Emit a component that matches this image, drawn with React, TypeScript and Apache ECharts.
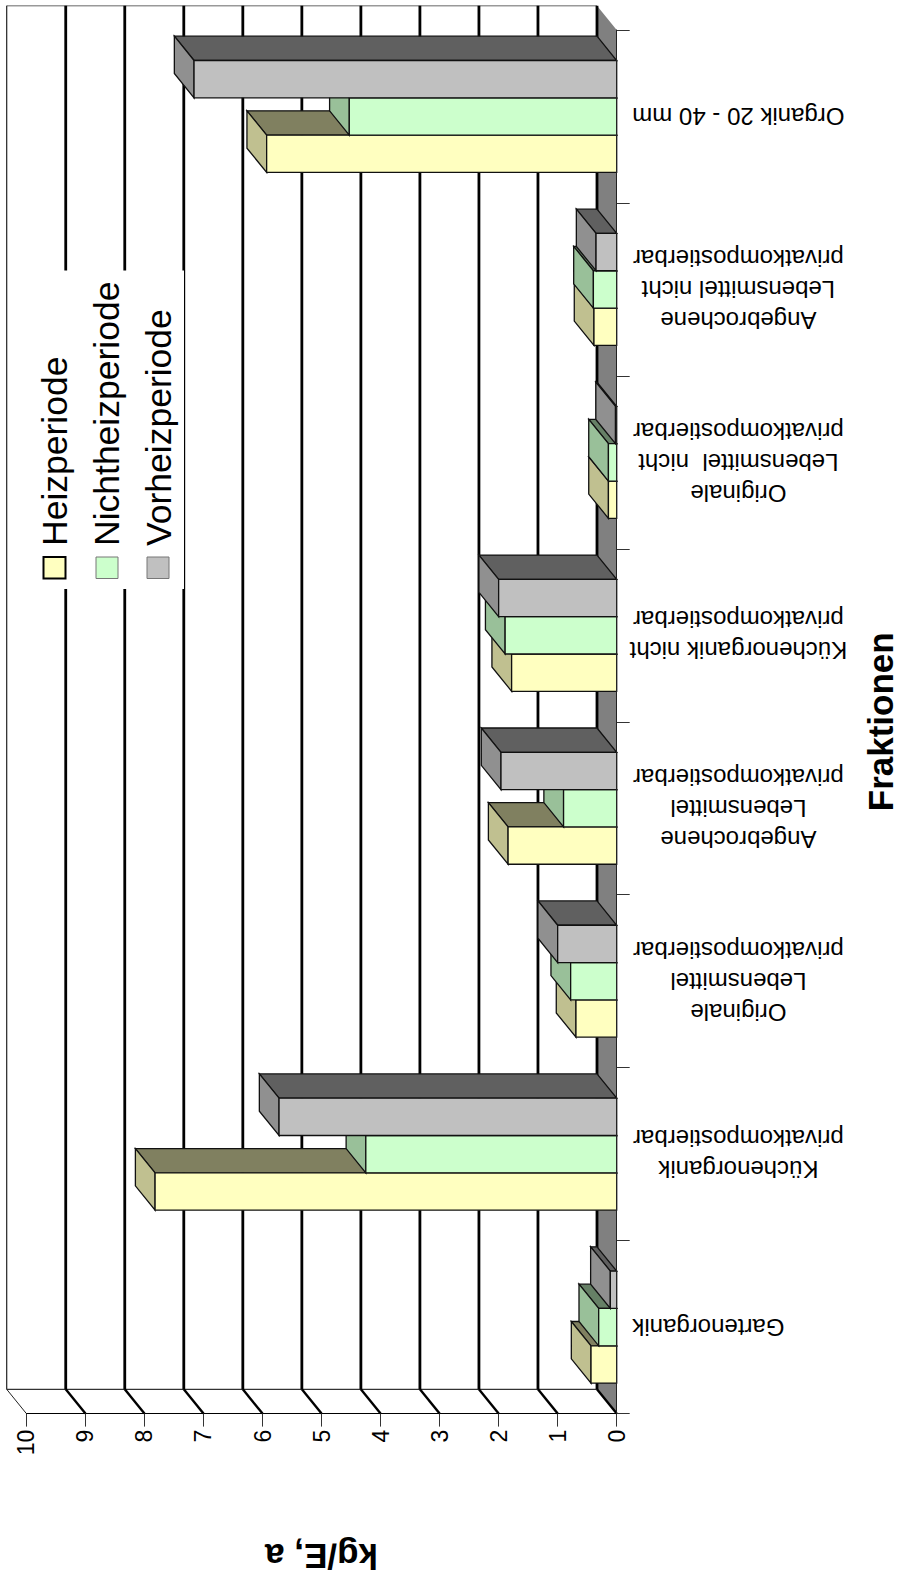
import React, { useEffect, useRef } from "react";
import * as echarts from "echarts";

const CATEGORIES = [
  "         Gartenorganik",
  "Küchenorganik\nprivatkompostierbar",
  "Originale\nLebensmittel\nprivatkompostierbar",
  "Angebrochene\nLebensmittel\nprivatkompostierbar",
  "Küchenorganik nicht\nprivatkompostierbar",
  "Originale\nLebensmittel  nicht\nprivatkompostierbar",
  "Angebrochene\nLebensmittel nicht\nprivatkompostierbar",
  "Organik 20 - 40 mm",
];
const HEIZ = [0.435, 7.82, 0.69, 1.84, 1.78, 0.14, 0.385, 5.93];
const NICHTHEIZ = [0.305, 4.25, 0.78, 0.9, 1.89, 0.14, 0.395, 4.53];
const VORHEIZ = [0.108, 5.72, 1.0, 1.96, 2.0, 0.02, 0.35, 7.16];
const VALUE_TICKS = [0, 1, 2, 3, 4, 5, 6, 7, 8, 9, 10];
const SERIES_NAMES = ["Heizperiode", "Nichtheizperiode", "Vorheizperiode"];

const FONT = "'Liberation Sans', Arial, sans-serif";
const DX = 19.7;
const DY = 24.3;
const BAR_FRACTION = 0.2158;
const PALETTES = [
  { front: "#FFFFC0", end: "#C0C090", top: "#808060" },
  { front: "#CCFFCC", end: "#99C099", top: "#668066" },
  { front: "#C0C0C0", end: "#909090", top: "#606060" },
];

function barSeries(name: string, values: number[], index: number) {
  const pal = PALETTES[index];
  return {
    type: "custom",
    name,
    z: 3,
    coordinateSystem: "cartesian2d",
    encode: { x: 0, y: 1 },
    data: values.map((v, i) => [v, i]),
    renderItem: (_p: any, api: any) => {
      const end = api.coord([api.value(0), api.value(1)]);
      const base = api.coord([0, api.value(1)]);
      const band = api.size([0, 1])[1];
      const h = band * BAR_FRACTION;
      const cy = end[1] + (1 - index) * h;
      const y0 = cy - h / 2;
      const y1 = cy + h / 2;
      const xe = end[0];
      const xb = base[0];
      const stroke = { stroke: "#111", lineWidth: 1.3 };
      return {
        type: "group",
        children: [
          {
            type: "polygon",
            shape: { points: [[xe, y0], [xe - DX, y0 - DY], [xb - DX, y0 - DY], [xb, y0]] },
            style: { fill: pal.top, ...stroke },
          },
          {
            type: "polygon",
            shape: { points: [[xe, y0], [xe - DX, y0 - DY], [xe - DX, y1 - DY], [xe, y1]] },
            style: { fill: pal.end, ...stroke },
          },
          {
            type: "rect",
            shape: { x: xe, y: y0, width: xb - xe, height: y1 - y0 },
            style: { fill: pal.front, ...stroke },
          },
        ],
      };
    },
  };
}

const wallSeries = {
  type: "custom",
  z: 1,
  silent: true,
  coordinateSystem: "cartesian2d",
  encode: { x: 0, y: 1 },
  data: VALUE_TICKS.map((v) => [v, 0]),
  renderItem: (params: any, api: any) => {
    const v = api.value(0);
    const x = api.coord([v, 0])[0];
    const top = params.coordSys.y;
    const bottom = top + params.coordSys.height;
    const thin = v === 10;
    const w = thin ? 1.2 : 2.8;
    const children: any[] = [];
    if (v === 0) {
      const x10 = api.coord([10, 0])[0];
      children.push(
        {
          type: "polygon",
          shape: { points: [[x, top], [x - DX, top - DY], [x - DX, bottom - DY], [x, bottom]] },
          style: { fill: "#808080" },
        },
        {
          type: "line",
          shape: { x1: x - DX, y1: bottom - DY, x2: x10 - DX, y2: bottom - DY },
          style: { stroke: "#000", lineWidth: 1 },
        },
        {
          type: "line",
          shape: { x1: x - DX, y1: top - DY, x2: x10 - DX, y2: top - DY },
          style: { stroke: "#999", lineWidth: 1.5 },
        },
      );
    }
    children.push(
      {
        type: "line",
        shape: { x1: x - DX, y1: top - DY, x2: x - DX, y2: bottom - DY },
        style: { stroke: thin ? "#222" : "#000", lineWidth: w },
      },
      {
        type: "line",
        shape: { x1: x - DX, y1: bottom - DY, x2: x, y2: bottom },
        style: { stroke: thin ? "#222" : "#000", lineWidth: thin ? 1 : 2.4 },
      },
    );
    return { type: "group", children };
  },
};

function legendElements() {
  const swatchX = [43.5, 96, 147];
  const textX = [55, 106.5, 158.5];
  const els: any[] = [
    {
      type: "rect",
      z: 10,
      shape: { x: 8.5, y: 270.5, width: 175.5, height: 318.5 },
      style: { fill: "#fff" },
    },
  ];
  SERIES_NAMES.forEach((name, i) => {
    els.push({
      type: "rect",
      z: 11,
      shape: { x: swatchX[i], y: 557, width: 22, height: 21.5 },
      style: {
        fill: PALETTES[i].front,
        stroke: i === 0 ? "#000" : "#777",
        lineWidth: i === 0 ? 2 : 1,
      },
    });
    els.push({
      type: "text",
      z: 11,
      x: textX[i],
      y: 546,
      rotation: Math.PI / 2,
      style: {
        text: name,
        fontFamily: FONT,
        fontSize: 35.5,
        fill: "#000",
        align: "left",
        verticalAlign: "middle",
      },
    });
  });
  return els;
}

export default function App() {
  const ref = useRef<HTMLDivElement>(null);
  useEffect(() => {
    document.body.style.margin = "0";
    const chart = echarts.init(ref.current!, undefined, { renderer: "svg" });
    chart.setOption({
      animation: false,
      backgroundColor: "#fff",
      textStyle: { fontFamily: FONT },
      grid: {
        left: 26.4,
        top: 30,
        width: 590.3,
        height: 1383.6,
        containLabel: false,
        outerBoundsMode: "none",
      },
      xAxis: {
        type: "value",
        inverse: true,
        position: "bottom",
        min: 0,
        max: 10,
        interval: 1,
        z: 4,
        splitLine: { show: false },
        axisLine: { show: true, onZero: false, lineStyle: { color: "#000", width: 1 } },
        axisTick: { show: true, length: 13, lineStyle: { color: "#333", width: 1 } },
        axisLabel: {
          rotate: 90,
          margin: 16,
          color: "#000",
          fontSize: 23,
          fontFamily: FONT,
        },
        name: "kg/E, a",
        nameLocation: "middle",
        nameRotate: 180,
        nameGap: 125,
        nameTextStyle: { fontSize: 35, fontWeight: "bold", color: "#000", fontFamily: FONT },
      },
      yAxis: {
        type: "category",
        position: "right",
        data: CATEGORIES,
        z: 4,
        axisLine: { show: true, onZero: false, lineStyle: { color: "#222", width: 1 } },
        axisTick: { show: true, length: 13, alignWithLabel: false, lineStyle: { color: "#333", width: 1 } },
        splitLine: { show: false },
        axisLabel: {
          interval: 0,
          rotate: 180,
          margin: 121.7,
          align: "center",
          verticalAlign: "middle",
          color: "#000",
          fontSize: 24,
          lineHeight: 31,
          fontFamily: FONT,
        },
        name: "Fraktionen",
        nameLocation: "middle",
        nameRotate: 90,
        nameGap: 246,
        nameTextStyle: { fontSize: 35, fontWeight: "bold", color: "#000", fontFamily: FONT },
      },
      series: [
        wallSeries,
        barSeries(SERIES_NAMES[0], HEIZ, 0),
        barSeries(SERIES_NAMES[1], NICHTHEIZ, 1),
        barSeries(SERIES_NAMES[2], VORHEIZ, 2),
      ],
      graphic: { elements: legendElements() },
    });
    return () => chart.dispose();
  }, []);
  return <div ref={ref} style={{ position: "absolute", left: 0, top: 0, width: 899, height: 1580 }} />;
}
